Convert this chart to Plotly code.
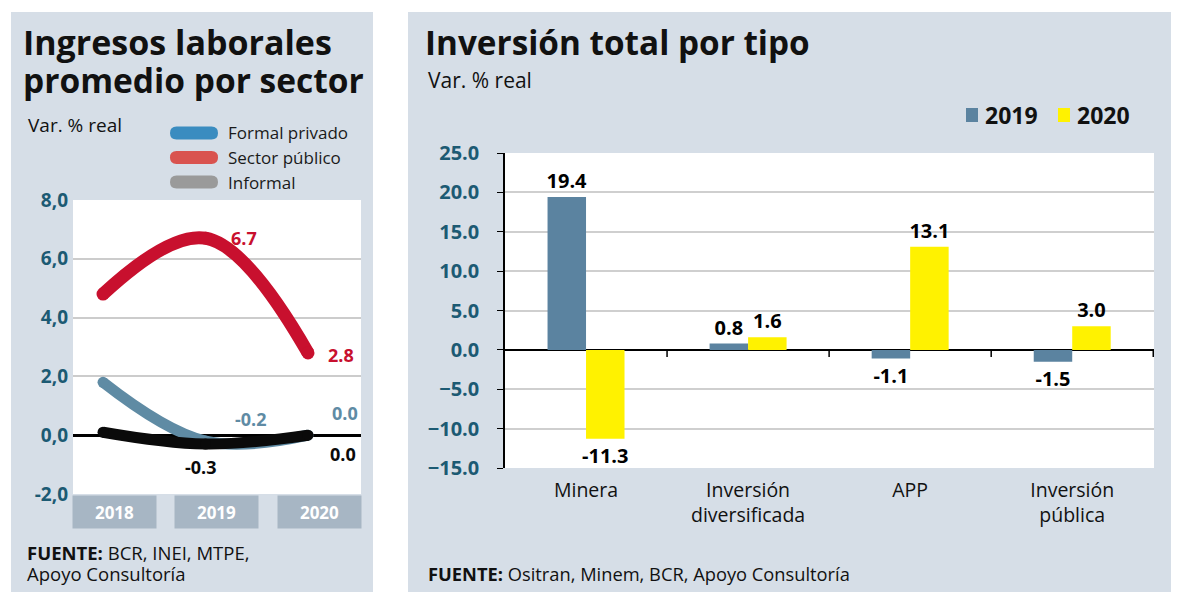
import plotly.graph_objects as go

W, H = 1180, 602

# ---------------- data ----------------
years = ["2018", "2019", "2020"]
series_names = ["Sector público", "Formal privado", "Informal"]
sector_publico = [4.8, 6.7, 2.8]
formal_privado = [1.8, -0.2, 0.0]
informal = [0.1, -0.3, 0.0]
left_tickvals = [-2, 0, 2, 4, 6, 8]
left_ticktext = ["-2,0", "0,0", "2,0", "4,0", "6,0", "8,0"]

categories = ["Minera", "Inversión<br>diversificada", "APP", "Inversión<br>pública"]
bar_years = ["2019", "2020"]
inv_2019 = [19.4, 0.8, -1.1, -1.5]
inv_2020 = [-11.3, 1.6, 13.1, 3.0]

# ---------------- styling ----------------
PANEL = "#d6dee7"
TEAL = "#1c5a73"
RED = "#c8102e"
BLUE = "#5f8ba4"
BLACK = "#0a0a0a"
BAR19 = "#5b83a0"
BAR20 = "#fff200"
SANS = "Open Sans"


def px(x):
    return x / W


def py(y):
    return 1 - y / H


fig = go.Figure()

# ---------- left line chart ----------
line_styles = {"Sector público": (RED, 13), "Formal privado": (BLUE, 11), "Informal": (BLACK, 11)}
for name, vals in zip(series_names, [sector_publico, formal_privado, informal]):
    col, wd = line_styles[name]
    fig.add_trace(go.Scatter(
        x=list(range(len(years))), y=vals, mode="lines+markers",
        line=dict(color=col, width=wd, shape="spline", smoothing=1.1),
        marker=dict(color=col, size=wd, line=dict(width=0)),
        name=name, showlegend=False, xaxis="x", yaxis="y", cliponaxis=False,
    ))

# ---------- right bar chart ----------
for yr, vals, col in zip(bar_years, [inv_2019, inv_2020], [BAR19, BAR20]):
    fig.add_trace(go.Bar(
        x=categories, y=vals, name=yr, marker=dict(color=col, line=dict(width=0)),
        text=[f"{v:.1f}" for v in vals], textposition="outside", constraintext="none",
        textfont=dict(family=SANS, size=20, color="black", weight="bold"), cliponaxis=False,
        showlegend=False, xaxis="x2", yaxis="y2",
    ))

shapes = []
shapes.append(dict(type="rect", xref="paper", yref="paper", x0=px(11), x1=px(373), y0=py(592), y1=py(12),
                   fillcolor=PANEL, line=dict(width=0), layer="below"))
shapes.append(dict(type="rect", xref="paper", yref="paper", x0=px(408), x1=px(1171), y0=py(592), y1=py(12),
                   fillcolor=PANEL, line=dict(width=0), layer="below"))
shapes.append(dict(type="rect", xref="paper", yref="paper", x0=px(73), x1=px(361), y0=py(494), y1=py(200),
                   fillcolor="white", line=dict(width=0), layer="below"))
shapes.append(dict(type="rect", xref="paper", yref="paper", x0=px(505), x1=px(1154), y0=py(468), y1=py(153),
                   fillcolor="white", line=dict(width=0), layer="below"))


def pill(x0, x1, yc, h, color):
    r = h / 2
    yt, yb = yc - r, yc + r
    pts = (f"M{px(x0 + r)},{py(yt)} L{px(x1 - r)},{py(yt)} "
           f"Q{px(x1)},{py(yt)} {px(x1)},{py(yc)} Q{px(x1)},{py(yb)} {px(x1 - r)},{py(yb)} "
           f"L{px(x0 + r)},{py(yb)} Q{px(x0)},{py(yb)} {px(x0)},{py(yc)} Q{px(x0)},{py(yt)} {px(x0 + r)},{py(yt)} Z")
    return dict(type="path", xref="paper", yref="paper", path=pts, fillcolor=color, line=dict(width=0))


annotations = []
legend_left = [("Formal privado", "#3a8cc0"), ("Sector público", "#d9534f"), ("Informal", "#9a9a9a")]
for i, (nm, col) in enumerate(legend_left):
    yc = 133 + i * 24.5
    shapes.append(pill(170, 218, yc, 13, col))
    annotations.append(dict(xref="paper", yref="paper", x=px(226), y=py(yc), xanchor="left", yanchor="middle",
                            text=nm, showarrow=False, font=dict(family=SANS, size=17, color="#1a1a1a")))

# right legend (squares + labels)
for yr, col, xs in zip(bar_years, [BAR19, BAR20], [966, 1058]):
    shapes.append(dict(type="rect", xref="paper", yref="paper", x0=px(xs), x1=px(xs + 12), y0=py(122), y1=py(108),
                       fillcolor=col, line=dict(width=0)))
    annotations.append(dict(xref="paper", yref="paper", x=px(xs + 17), y=py(115), xanchor="left", yanchor="middle",
                            text=f"<b>{yr}</b>", showarrow=False, font=dict(family=SANS, size=23, color="#111")))

# zero-line boundary ticks on right chart
for b in [0.5, 1.5, 2.5, 3.5]:
    shapes.append(dict(type="line", xref="x2", yref="y2", x0=b, x1=b, y0=0, y1=-0.9,
                       line=dict(color="black", width=1.5)))

annotations += [
    dict(xref="paper", yref="paper", x=px(21), y=py(42), xanchor="left", yanchor="middle",
         text="<b>Ingresos laborales</b>", showarrow=False, font=dict(family=SANS, size=34, color="#111")),
    dict(xref="paper", yref="paper", x=px(21), y=py(80), xanchor="left", yanchor="middle",
         text="<b>promedio por sector</b>", showarrow=False, font=dict(family=SANS, size=33.5, color="#111")),
    dict(xref="paper", yref="paper", x=px(26), y=py(125), xanchor="left", yanchor="middle",
         text="Var. % real", showarrow=False, font=dict(family=SANS, size=19, color="#111")),
    dict(xref="paper", yref="paper", x=px(25), y=py(552), xanchor="left", yanchor="middle",
         text="<b>FUENTE:</b> BCR, INEI, MTPE,", showarrow=False, font=dict(family=SANS, size=18.5, color="#111")),
    dict(xref="paper", yref="paper", x=px(25), y=py(573), xanchor="left", yanchor="middle",
         text="Apoyo Consultoría", showarrow=False, font=dict(family=SANS, size=18.5, color="#111")),
    dict(xref="paper", yref="paper", x=px(423), y=py(42), xanchor="left", yanchor="middle",
         text="<b>Inversión total por tipo</b>", showarrow=False, font=dict(family=SANS, size=33.3, color="#111")),
    dict(xref="paper", yref="paper", x=px(426), y=py(80), xanchor="left", yanchor="middle",
         text="Var. % real", showarrow=False, font=dict(family=SANS, size=21, color="#111")),
    dict(xref="paper", yref="paper", x=px(426), y=py(573), xanchor="left", yanchor="middle",
         text="<b>FUENTE:</b> Ositran, Minem, BCR, Apoyo Consultoría", showarrow=False,
         font=dict(family=SANS, size=18.3, color="#111")),
]

for i, yr in enumerate(years):
    annotations.append(dict(xref="x", yref="paper", x=i, y=py(512), xshift=11, xanchor="center", yanchor="middle",
                            text=f"<b>{yr}</b>", showarrow=False, width=81, height=30, bgcolor="#a7b6c4",
                            font=dict(family=SANS, size=17, color="white")))

lab = [
    (1, sector_publico[1], "6.7", RED, 38, 0),
    (2, sector_publico[2], "2.8", RED, 33, -2),
    (1, formal_privado[1], "-0.2", BLUE, 45, 22),
    (2, formal_privado[2], "0.0", BLUE, 37, 22),
    (1, informal[1], "-0.3", BLACK, -5, -23),
    (2, informal[2], "0.0", BLACK, 35, -19),
]
for x, y, t, c, dx, dy in lab:
    annotations.append(dict(xref="x", yref="y", x=x, y=y, xshift=dx, yshift=dy, text=f"<b>{t}</b>",
                            showarrow=False, font=dict(family=SANS, size=18, color=c)))

fig.update_layout(
    width=W, height=H, autosize=False, margin=dict(l=0, r=0, t=0, b=0, autoexpand=False),
    paper_bgcolor="white", plot_bgcolor="rgba(0,0,0,0)",
    barmode="group", bargap=0.525, bargroupgap=0,
    shapes=shapes, annotations=annotations, showlegend=False,
    xaxis=dict(domain=[px(73), px(361)], range=[-0.293, 2.517], showgrid=False, zeroline=False,
               showticklabels=False, fixedrange=True, anchor="y"),
    yaxis=dict(domain=[py(494), py(200)], range=[-2, 8], tickvals=left_tickvals, ticktext=left_ticktext,
               showgrid=True, gridcolor="#cccccc", gridwidth=2, zeroline=True, zerolinecolor="black",
               zerolinewidth=2.5, ticks="", ticklabelstandoff=4,
               tickfont=dict(family=SANS, size=19, color=TEAL, weight="bold"), anchor="x"),
    xaxis2=dict(domain=[px(505), px(1154)], showgrid=False, zeroline=False, anchor="y2",
                tickfont=dict(family=SANS, size=19.5, color="#111"), ticks="", ticklabelstandoff=8),
    yaxis2=dict(domain=[py(468), py(153)], range=[-15, 25], dtick=5, tickformat=".1f",
                showgrid=True, gridcolor="#cfcfcf", gridwidth=2, zeroline=True, zerolinecolor="black",
                zerolinewidth=2, showline=True, linecolor="black", linewidth=1.5, ticks="outside",
                ticklen=6, tickcolor="black", ticklabelstandoff=14,
                tickfont=dict(family=SANS, size=20, color=TEAL, weight="bold"), anchor="x2"),
)

post = ("document.body.style.margin='0';document.body.style.overflow='hidden';"
        "var gd=document.getElementById('{plot_id}');"
        "gd.style.width='1180px';gd.style.height='602px';"
        "Plotly.relayout(gd,{width:1180,height:602});")
fig.write_html("out.html", post_script=post, config={"displayModeBar": False})
